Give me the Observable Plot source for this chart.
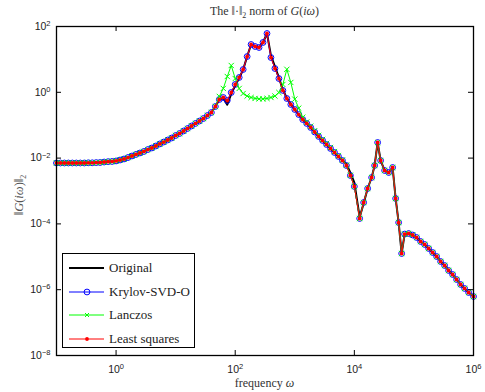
<!DOCTYPE html>
<html><head><meta charset="utf-8">
<script src="https://cdn.jsdelivr.net/npm/d3@7"></script>
<script src="https://cdn.jsdelivr.net/npm/@observablehq/plot@0.6"></script>
<style>
body{margin:0;background:#fff;}
#wrap{position:relative;width:485px;height:392px;overflow:hidden;background:#fff;}
.t{position:absolute;font-family:"Liberation Serif",serif;color:#333;white-space:nowrap;}
#legend{position:absolute;left:62px;top:253px;width:131px;height:93px;border:1px solid #000;background:#fff;}
.le{position:absolute;left:6px;height:14px;display:flex;align-items:center;font-family:"Liberation Serif",serif;font-size:13px;color:#222;}
.le svg{margin-right:5px;}
</style></head><body>
<div id="wrap"></div>
<script>
// frequency samples (rad/s)
const omega = [0.1,0.1166,0.1359,0.1585,0.1848,0.2154,0.2512,0.2929,0.3415,0.3981,0.4642,0.5412,0.631,0.7356,0.8577,
1,1.166,1.359,1.585,1.848,2.154,2.512,2.929,3.415,3.981,4.642,5.412,6.31,7.356,8.577,
10,11.66,13.59,15.85,18.48,21.54,25.12,29.29,34.15,39.81,46.42,54.12,63.1,73.56,85.77,
100,116.6,135.9,158.5,184.8,215.4,251.2,292.9,341.5,398.1,464.2,541.2,631,735.6,857.7,
1000,1166,1359,1585,1848,2154,2512,2929,3415,3981,4642,5412,6310,7356,8577,
10000,12270,14320,16710,19500,21900,24600,27600,32200,37700,43900,49300,55400,62200,69800,81500,95100,
110900,129500,151400,176600,206000,240400,280500,327300,382000,445700,520000,608000,709000,828000,1000000];

const krylov = [0.0071,0.0071,0.0071,0.0071,0.0071,0.0071,0.0071,0.0071,0.0072,0.0072,0.0073,0.00735,0.0076,0.0078,0.0079,
0.0082,0.00875,0.0094,0.0104,0.0116,0.0129,0.0143,0.0159,0.0182,0.0203,0.0233,0.0269,0.0308,0.0355,0.0408,
0.0486,0.056,0.0667,0.0794,0.0946,0.113,0.134,0.16,0.197,0.243,0.37,0.604,0.695,0.564,0.986,
1.73,2.82,4.93,12.2,28.4,24.7,23.0,32.7,61.3,11.4,5.29,2.62,1.14,0.648,0.426,
0.3,0.211,0.149,0.113,0.0851,0.0621,0.0454,0.0343,0.0259,0.0196,0.0148,0.0112,0.00845,0.00596,0.00296,
0.00137,1.46e-4,4.47e-4,1.19e-3,2.57e-3,5.96e-3,0.0298,8.45e-3,4.2e-3,3.65e-3,5.18e-3,5.92e-4,1.1e-4,1.26e-5,4.9e-5,5.1e-5,4.6e-5,
3.86e-5,2.92e-5,2.37e-5,1.79e-5,1.35e-5,1.02e-5,7.2e-6,5.44e-6,3.84e-6,2.9e-6,2.04e-6,1.44e-6,1.09e-6,8.22e-7,6.21e-7];

const lanczos = [0.0071,0.0071,0.0071,0.0071,0.0071,0.0071,0.0071,0.0071,0.0072,0.0072,0.0073,0.00735,0.0076,0.0078,0.0079,
0.0082,0.00875,0.0094,0.0104,0.0116,0.0129,0.0143,0.0159,0.0182,0.0203,0.0233,0.0269,0.0308,0.0355,0.0408,
0.0486,0.056,0.0667,0.0794,0.0946,0.113,0.134,0.16,0.197,0.243,0.37,0.75,1.31,3.02,6.53,
2.62,1.31,0.92,0.77,0.695,0.65,0.63,0.63,0.65,0.695,0.77,0.986,1.73,5.0,1.99,
0.62,0.33,0.175,0.125,0.093,0.068,0.049,0.037,0.028,0.021,0.0158,0.0118,0.0088,0.0061,0.003,
0.00137,1.46e-4,4.47e-4,1.19e-3,2.57e-3,5.96e-3,0.0298,8.45e-3,4.2e-3,3.65e-3,5.18e-3,5.92e-4,1.1e-4,1.26e-5,4.9e-5,5.1e-5,4.6e-5,
3.86e-5,2.92e-5,2.37e-5,1.79e-5,1.35e-5,1.02e-5,7.2e-6,5.44e-6,3.84e-6,2.9e-6,2.04e-6,1.44e-6,1.09e-6,8.22e-7,6.21e-7];

const leastSquares = krylov.slice();

const original = [0.0071,0.0071,0.0071,0.0071,0.0071,0.0071,0.0071,0.0071,0.0072,0.0072,0.0073,0.00735,0.0076,0.0078,0.0079,
0.0082,0.00875,0.0094,0.0104,0.0116,0.0129,0.0143,0.0159,0.0182,0.0203,0.0233,0.0269,0.0308,0.0355,0.0408,
0.0486,0.056,0.0667,0.0794,0.0946,0.113,0.134,0.16,0.197,0.243,0.37,0.604,0.66,0.42,0.9,
1.6,2.7,4.9,12.2,28.4,24.7,23.0,32.7,61.3,13.0,6.0,2.8,1.2,0.66,0.43,
0.3,0.211,0.149,0.113,0.0851,0.0621,0.0454,0.0343,0.0259,0.0196,0.0148,0.0112,0.0088,0.0065,0.0036,
0.0018,1.6e-4,4.2e-4,1.19e-3,2.57e-3,5.96e-3,0.0298,8.45e-3,4.2e-3,3.65e-3,5.18e-3,5.92e-4,1.1e-4,1.26e-5,4.9e-5,5.1e-5,4.6e-5,
3.86e-5,2.92e-5,2.37e-5,1.79e-5,1.35e-5,1.02e-5,7.2e-6,5.44e-6,3.84e-6,2.9e-6,2.04e-6,1.44e-6,1.09e-6,8.22e-7,6.21e-7];

const xTicks = [1, 100, 1e4, 1e6];
const xTickExp = ["0", "2", "4", "6"];
const yTicks = [1e-8, 1e-6, 1e-4, 1e-2, 1, 100];
const yTickExp = ["\u22128", "\u22126", "\u22124", "\u22122", "0", "2"];

const seriesNames = ["Original", "Krylov-SVD-O", "Lanczos", "Least squares"];
const seriesColors = ["#000000", "#0000ff", "#00ff00", "#ff0000"];

const rows = omega.map((w, i) => ({w, o: original[i], k: krylov[i], l: lanczos[i], s: leastSquares[i]}));

const W = 485, H = 392, mL = 56, mR = 12, mT = 26, mB = 37;
const pw = W - mL - mR, ph = H - mT - mB;
const xFmt = new Map(xTicks.map((t, i) => [t, xTickExp[i]]));
const yFmt = new Map(yTicks.map((t, i) => [t, yTickExp[i]]));

const svg = Plot.plot({
  width: W, height: H,
  marginLeft: mL, marginRight: mR, marginTop: mT, marginBottom: mB,
  style: {fontFamily: "'Liberation Sans', Arial, sans-serif", fontSize: "10.5px", color: "#222", background: "#fff"},
  x: {type: "log", domain: [0.1, 1e6]},
  y: {type: "log", domain: [1e-8, 100]},
  marks: [
    Plot.line(rows, {x: "w", y: "o", stroke: seriesColors[0], strokeWidth: 2}),
    Plot.line(rows, {x: "w", y: "k", stroke: seriesColors[1], strokeWidth: 1}),
    Plot.dot(rows, {x: "w", y: "k", r: 2.9, stroke: seriesColors[1], fill: "none", strokeWidth: 1}),
    Plot.line(rows, {x: "w", y: "l", stroke: seriesColors[2], strokeWidth: 1}),
    Plot.dot(rows, {x: "w", y: "l", r: 2.5, symbol: "times", stroke: seriesColors[2], strokeWidth: 1}),
    Plot.line(rows, {x: "w", y: "s", stroke: seriesColors[3], strokeWidth: 1}),
    Plot.dot(rows, {x: "w", y: "s", r: 1.9, fill: seriesColors[3], stroke: "none"}),
    Plot.frame({stroke: "#000", strokeWidth: 1.3}),
    Plot.tickX(xTicks, {x: d => d, stroke: "#000", insetTop: ph - 5}),
    Plot.tickX(xTicks, {x: d => d, stroke: "#000", insetBottom: ph - 5}),
    Plot.tickY(yTicks, {y: d => d, stroke: "#000", insetLeft: pw - 5}),
    Plot.tickY(yTicks, {y: d => d, stroke: "#000", insetRight: pw - 5}),
    Plot.axisX({ticks: xTicks, tickSize: 0, tickPadding: 10, label: null, tickFormat: d => "10^" + xFmt.get(d)}),
    Plot.axisY({ticks: yTicks, tickSize: 0, tickPadding: 6, label: null, tickFormat: d => "10^" + yFmt.get(d)})
  ]
});

// superscript exponents in tick labels
svg.querySelectorAll("text").forEach(t => {
  const s = t.textContent;
  if (s.startsWith("10^")) {
    const e = s.slice(3);
    t.textContent = "";
    const a = document.createElementNS("http://www.w3.org/2000/svg", "tspan");
    a.textContent = "10";
    const b = document.createElementNS("http://www.w3.org/2000/svg", "tspan");
    b.textContent = e;
    b.setAttribute("dy", "-0.5em");
    b.setAttribute("font-size", "7.5px");
    t.appendChild(a); t.appendChild(b);
  }
});

const wrap = document.getElementById("wrap");
wrap.appendChild(svg);

function addText(html, css) {
  const d = document.createElement("div");
  d.className = "t";
  d.innerHTML = html;
  Object.assign(d.style, css);
  wrap.appendChild(d);
}
addText("The \u2016\u00b7\u2016<sub style='font-size:8px'>2</sub> norm of <i>G</i>(<i>i\u03c9</i>)",
  {left: mL + "px", width: pw + "px", textAlign: "center", top: "4px", fontSize: "12px"});
addText("frequency <i>\u03c9</i>",
  {left: mL + "px", width: pw + "px", textAlign: "center", top: "376px", fontSize: "12px"});
addText("\u2016<i>G</i>(<i>i\u03c9</i>)\u2016<sub style='font-size:8px'>2</sub>",
  {left: "20px", top: "195px", fontSize: "12.5px", transform: "translate(-50%,-50%) rotate(-90deg)", color: "#555"});

// legend
const lg = document.createElement("div");
lg.id = "legend";
const tops = [7, 31, 54, 78];
seriesNames.forEach((name, i) => {
  const e = document.createElement("div");
  e.className = "le";
  e.style.top = tops[i] + "px";
  const c = seriesColors[i];
  let mk = "";
  if (i === 1) mk = `<circle cx="18" cy="7" r="2.9" fill="none" stroke="${c}"/>`;
  if (i === 2) mk = `<path d="M16,5L20,9M20,5L16,9" stroke="${c}"/>`;
  if (i === 3) mk = `<circle cx="18" cy="7" r="1.9" fill="${c}"/>`;
  e.innerHTML = `<svg width="35" height="14"><line x1="0" x2="35" y1="7" y2="7" stroke="${c}" stroke-width="${i === 0 ? 2 : 1}"/>${mk}</svg><span>${name}</span>`;
  lg.appendChild(e);
});
wrap.appendChild(lg);
</script>
</body></html>
